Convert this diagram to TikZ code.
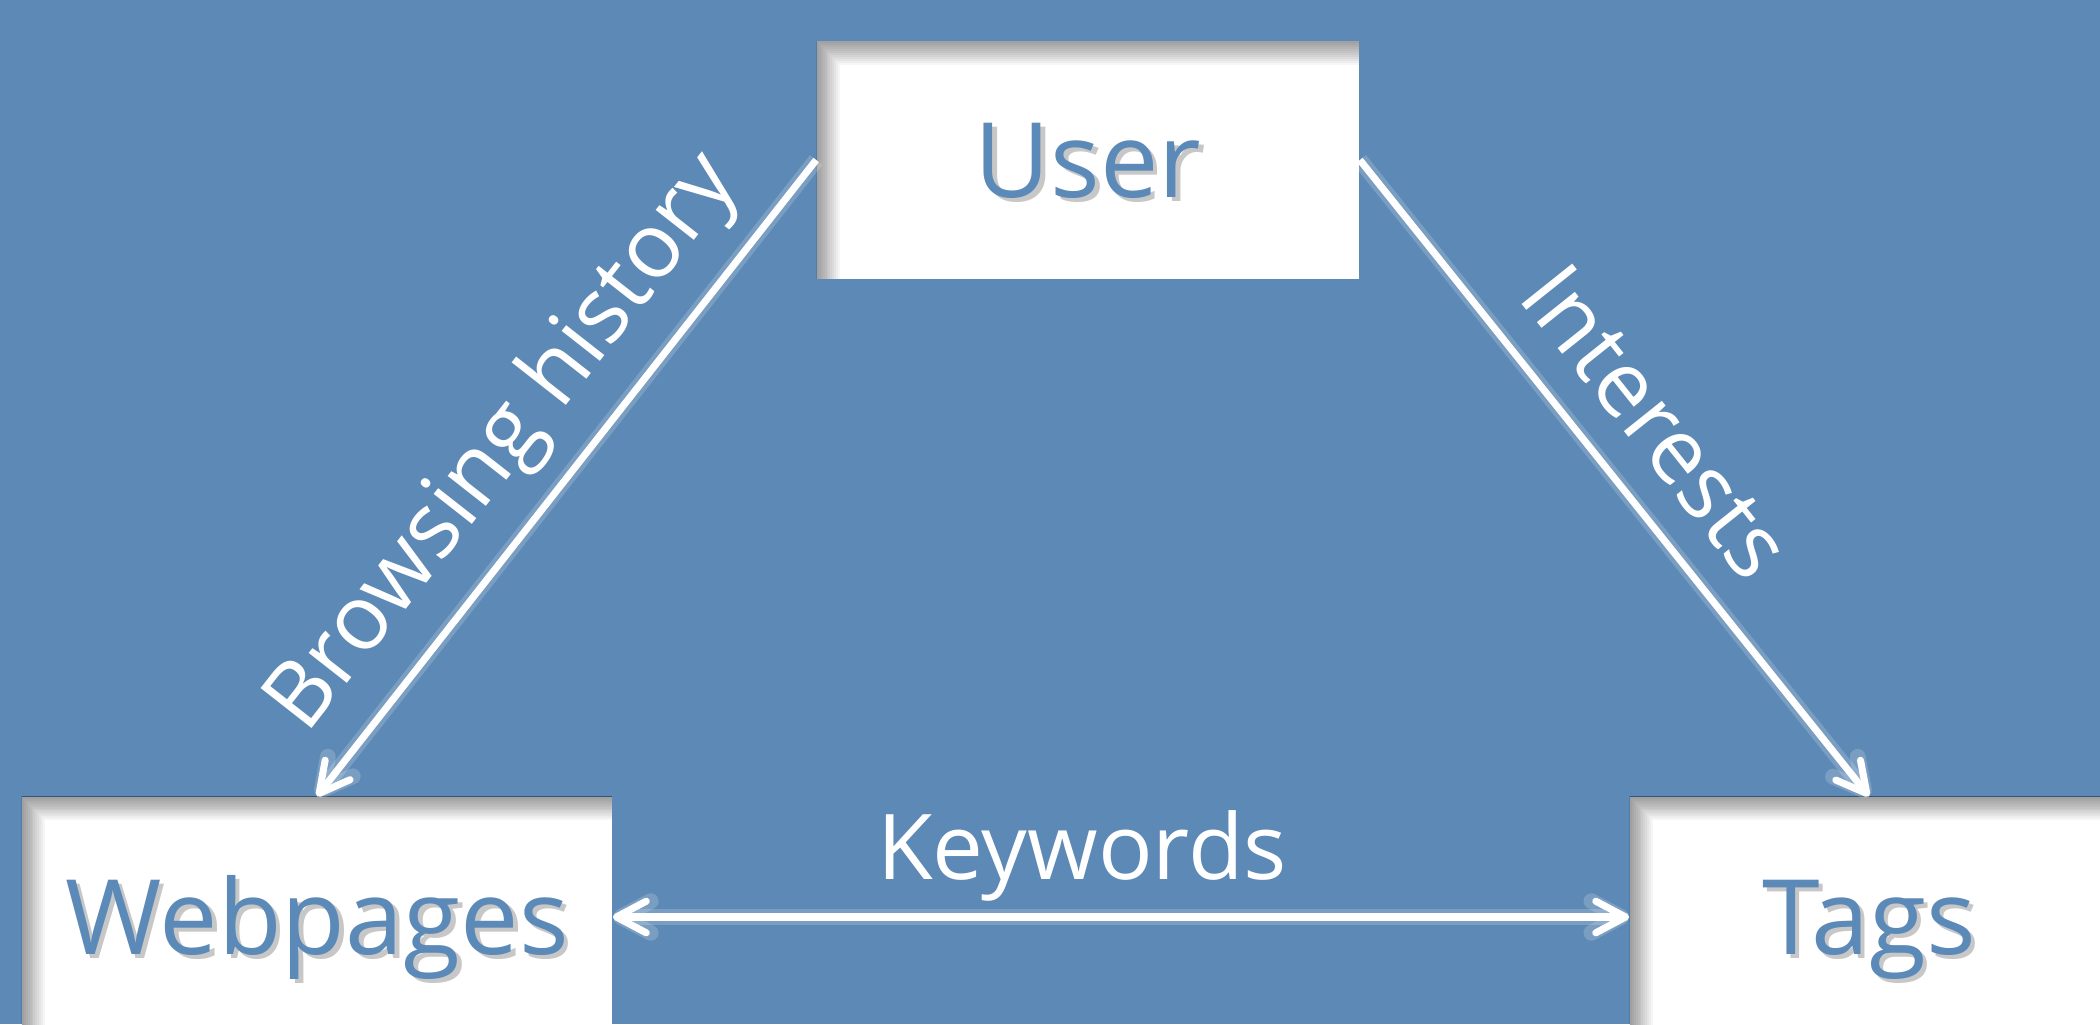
\documentclass[tikz,border=0pt]{standalone}
\usepackage{fontspec}
\setmainfont{Open Sans}
\usetikzlibrary{arrows.meta,calc}

\definecolor{bg}{RGB}{92,137,181}
\definecolor{ink}{RGB}{91,137,184}

% entity caption with a soft drop shadow
\newcommand{\shadowed}[1]{\rlap{\kern1.3pt\raisebox{-1.3pt}{\textcolor{black!22}{#1}}}\textcolor{ink}{#1}}

\tikzset{
  entity/.style={
    fill=white, inner sep=0pt, text depth=0pt, text height=21.2pt,
    font=\fontsize{29.6pt}{35pt}\selectfont,
    path picture={
      \foreach \w in {1,...,12}{
        \draw[black, opacity=0.035, line width=\w*1.1pt, line join=miter]
          (path picture bounding box.south west) --
          (path picture bounding box.north west) --
          (path picture bounding box.north east);
      }
    }
  },
  tip/.tip={Straight Barb[length=8.5pt, width=9pt, round]},
  link/.style={draw=white, line width=2pt,
    preaction={draw=white, opacity=0.18, line width=4.5pt}},
  caption/.style={text=white, inner sep=0pt, text depth=0pt, text height=18.4pt,
    font=\fontsize{25.8pt}{31pt}\selectfont}
}

\begin{document}
\begin{tikzpicture}[x=0.01cm, y=-0.01cm]
  \fill[bg] (0,0) rectangle (2100,1024);
  \useasboundingbox (0,0) rectangle (2100,1024);
  \clip (0,0) rectangle (2100,1024);

  % entities
  \node[entity, minimum width=5.42cm, minimum height=2.37cm] (user) at (1088,160) {\shadowed{User}};
  \node[entity, minimum width=5.90cm, minimum height=2.40cm] (web)  at (317,917)  {\shadowed{Webpages}};
  \node[entity, minimum width=4.78cm, minimum height=2.40cm] (tags) at (1869,917) {\shadowed{Tags}};

  % relations
  \draw[link, -tip] (user.west) -- (web.north);
  \draw[link, -tip] (user.east) -- (tags.north);
  \draw[link, tip-tip] (web.east) -- (tags.west);

  % relation captions
  \node[caption, rotate=51.9]  (browse) at ($(user.west)!0.514!(web.north)!0.78cm!-90:(web.north)$) {Browsing history};
  \node[caption, rotate=-51.4] (inter)  at ($(user.east)!0.478!(tags.north)!0.69cm!90:(tags.north)$) {Interests};
  \node[caption] (keys) at (1082,847.5) {Keywords};
\end{tikzpicture}
\end{document}
